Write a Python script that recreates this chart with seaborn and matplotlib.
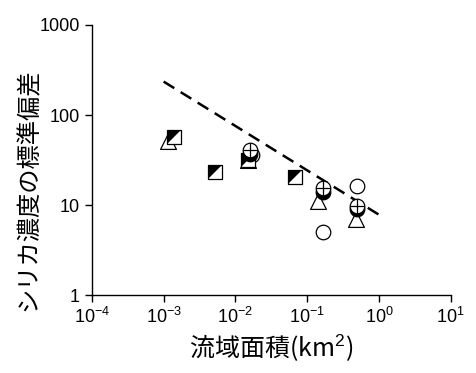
import numpy as np
import pandas as pd
import matplotlib
matplotlib.use("Agg")
import matplotlib.pyplot as plt
from matplotlib.path import Path
from matplotlib.ticker import FixedLocator, FixedFormatter, NullLocator
import seaborn as sns

# 流域面積 (km2) と シリカ濃度の標準偏差
sq_x = [0.0014, 0.0052, 0.0150, 0.068]
sq_y = [57, 23.5, 32, 20.5]

tri_x = [0.00115, 0.0150, 0.140, 0.48]
tri_y = [51, 32, 11, 7.0]

open_x = [0.165, 0.49, 0.017]
open_y = [5.0, 16.3, 36]

cross_x = [0.0160, 0.165, 0.49]
cross_y = [41, 15.5, 9.8]

half_x = [0.0160, 0.165, 0.49]
half_y = [37, 14.0, 9.0]

fit_x = [0.001, 1.0]
fit_y = [235, 7.8]

xticks = [1e-4, 1e-3, 1e-2, 1e-1, 1e0, 1e1]
xlabels = ["10$^{-4}$", "10$^{-3}$", "10$^{-2}$", "10$^{-1}$", "10$^{0}$", "10$^{1}$"]
yticks = [1, 10, 100, 1000]
ylabels = ["1", "10", "100", "1000"]

sns.set_style("white", {"text.color": "black", "axes.labelcolor": "black",
                        "xtick.color": "black", "ytick.color": "black"})
plt.rcParams["font.family"] = ["Liberation Sans", "DejaVu Sans"]
plt.rcParams["mathtext.fontset"] = "custom"
plt.rcParams["mathtext.rm"] = "Liberation Sans"
plt.rcParams["mathtext.it"] = "Liberation Sans"

# diagonal half-filled square (upper-left black)
tri_ul = Path([(-1, -1), (-1, 1), (1, 1), (-1, -1)],
              [Path.MOVETO, Path.LINETO, Path.LINETO, Path.CLOSEPOLY])
# lower half disk
th = np.linspace(np.pi, 2 * np.pi, 40)
half_disk = Path(np.vstack([np.column_stack([np.cos(th), np.sin(th)]), [[-1, 0]]]))

fig = plt.figure(figsize=(4.76, 3.73), dpi=100)
ax = fig.add_axes([0.193, 0.209, 0.754, 0.724])

sns.lineplot(x=fit_x, y=fit_y, ax=ax, color="black", linestyle=(0, (5, 3)),
             linewidth=1.8)

msq = 9.4
sns.scatterplot(x=tri_x, y=tri_y, ax=ax, marker="^", s=130, facecolor="white",
                edgecolor="black", linewidth=0.9, zorder=3)
sns.scatterplot(x=sq_x, y=sq_y, ax=ax, marker="s", s=msq ** 2, facecolor="white",
                edgecolor="black", linewidth=0.9, zorder=4)
sns.scatterplot(x=sq_x, y=sq_y, ax=ax, marker=tri_ul, s=msq ** 2, color="black",
                linewidth=0, zorder=5)
sns.scatterplot(x=open_x, y=open_y, ax=ax, marker="o", s=110, facecolor="white",
                edgecolor="black", linewidth=0.9, zorder=3)
sns.scatterplot(x=half_x, y=half_y, ax=ax, marker="o", s=110, facecolor="white",
                edgecolor="black", linewidth=0.9, zorder=4)
sns.scatterplot(x=half_x, y=half_y, ax=ax, marker=half_disk, s=110, color="black",
                linewidth=0, zorder=5)
sns.scatterplot(x=cross_x, y=cross_y, ax=ax, marker="o", s=110, facecolor="white",
                edgecolor="black", linewidth=0.9, zorder=6)
sns.scatterplot(x=cross_x, y=cross_y, ax=ax, marker="+", s=110, color="black",
                linewidth=0.9, zorder=7)

ax.set_xscale("log")
ax.set_yscale("log")
ax.set_xlim(1e-4, 1e1)
ax.set_ylim(1, 1000)
ax.xaxis.set_major_locator(FixedLocator(xticks))
ax.xaxis.set_major_formatter(FixedFormatter(xlabels))
ax.yaxis.set_major_locator(FixedLocator(yticks))
ax.yaxis.set_major_formatter(FixedFormatter(ylabels))
ax.xaxis.set_minor_locator(NullLocator())
ax.yaxis.set_minor_locator(NullLocator())
ax.tick_params(direction="out", length=5, width=1, labelsize=13, color="black",
               labelcolor="black", bottom=True, left=True)

for side in ["top", "right"]:
    ax.spines[side].set_visible(False)
for side in ["left", "bottom"]:
    ax.spines[side].set_color("black")
    ax.spines[side].set_linewidth(1)

jp = ["Noto Sans CJK JP", "DejaVu Sans"]
ax.set_xlabel("流域面積(km$^{2}$)", fontsize=18, family=jp, color="black",
              labelpad=4)
ax.set_ylabel("シリカ濃度の標準偏差", fontsize=17.5, family=jp, color="black")
# label sits a little below the axes centre in the original
ax.yaxis.set_label_coords(-0.14, 0.39)

fig.savefig("out.png", dpi=100)
